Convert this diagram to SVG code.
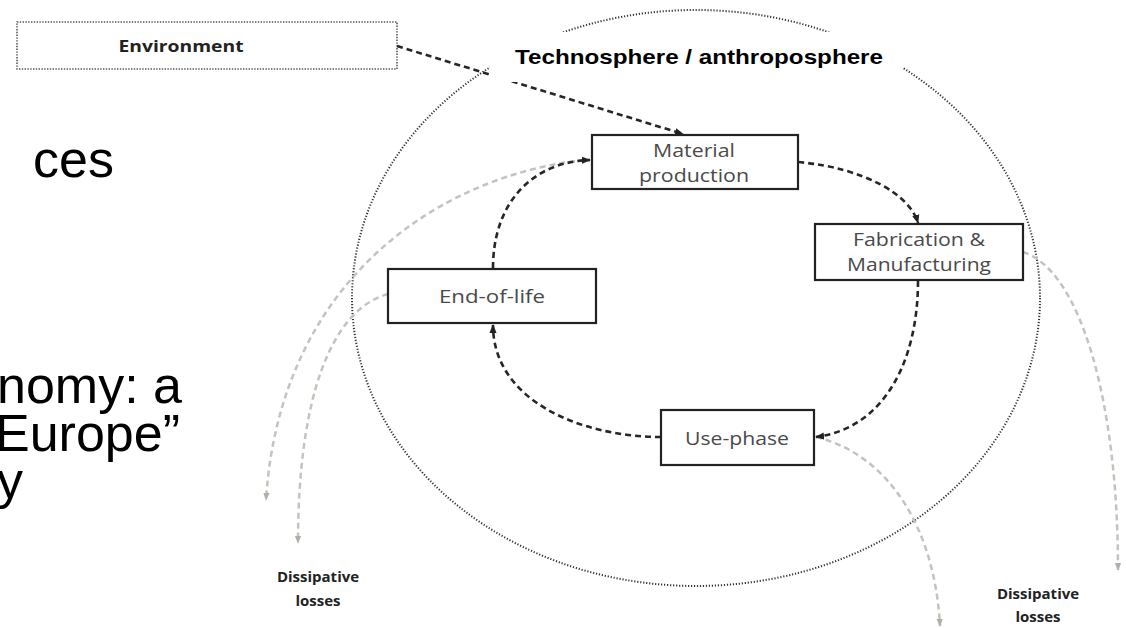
<svg xmlns="http://www.w3.org/2000/svg" width="1126" height="628" viewBox="0 0 1126 628">
  <style>
    .slide { font-family: "Liberation Sans", Arial, sans-serif; font-size: 52px; fill: #000; }
    .node rect { fill: #fff; stroke: #222; stroke-width: 2.2; }
    .node text { font-family: "Open Sans", "DejaVu Sans", sans-serif; font-size: 19px; fill: #4a4a4a; text-anchor: middle; }
    .bold { font-family: "Open Sans", "Liberation Sans", sans-serif; font-weight: bold; fill: #222; text-anchor: middle; }
    .flow { fill: none; stroke: #262626; stroke-width: 2.6; stroke-dasharray: 6 4; }
    .loss { fill: none; stroke: #c4c4bc; stroke-width: 2.5; stroke-dasharray: 6 4; }
    .sphere { fill: none; stroke: #333; stroke-width: 2; stroke-dasharray: 1.2 1.8; }
  </style>
  <defs>
    <marker id="ah" viewBox="0 0 10 10" refX="9" refY="5" markerWidth="9" markerHeight="9" markerUnits="userSpaceOnUse" orient="auto">
      <path d="M0,1 L10,5 L0,9 z" fill="#222"/>
    </marker>
    <marker id="ahg" viewBox="0 0 10 10" refX="9" refY="5" markerWidth="8" markerHeight="8" markerUnits="userSpaceOnUse" orient="auto">
      <path d="M0,1 L10,5 L0,9 z" fill="#b0b0a8"/>
    </marker>
  </defs>
  <rect width="1126" height="628" fill="#fff"/>

  <!-- cut-off slide text -->
  <g id="slide-text">
    <text class="slide" x="33" y="177">ces</text>
    <text class="slide" y="403"><tspan x="-3">nomy: a</tspan><tspan x="-5" dy="48">Europe”</tspan><tspan x="-3" dy="47">y</tspan></text>
  </g>

  <!-- technosphere boundary -->
  <g id="technosphere">
    <ellipse class="sphere" cx="696" cy="298" rx="344" ry="288"/>
  </g>

  <!-- environment -->
  <g id="environment">
    <rect x="17" y="22" width="380" height="47" fill="#fff" stroke="#555" stroke-width="1.6" stroke-dasharray="1.4 1.4"/>
    <text class="bold" x="181" y="52" font-size="16" textLength="125" lengthAdjust="spacingAndGlyphs">Environment</text>
  </g>

  <!-- connectors -->
  <g id="connectors">
    <path class="loss" d="M585,160 C440,175 280,280 266,500" marker-end="url(#ahg)"/>
    <path class="loss" d="M388,294 C330,310 298,400 298,543" marker-end="url(#ahg)"/>
    <path class="loss" d="M1023,252 C1080,270 1118,400 1118,570" marker-end="url(#ahg)"/>
    <path class="loss" d="M816,437 C890,455 935,530 940,626" marker-end="url(#ahg)"/>
    <path class="flow" d="M397,46 L683,134" marker-end="url(#ah)"/>
    <path class="flow" d="M798,162 C865,168 910,195 918,223" marker-end="url(#ah)"/>
    <path class="flow" d="M918,281 C918,360 885,428 816,437" marker-end="url(#ah)"/>
    <path class="flow" d="M661,437 C580,437 493,400 493,325" marker-end="url(#ah)"/>
    <path class="flow" d="M493,268 C493,205 530,162 590,160" marker-end="url(#ah)"/>
  </g>

  <!-- technosphere label -->
  <g id="techno-label">
    <rect x="490" y="32" width="413" height="50" fill="#fff"/>
    <text x="515" y="64" font-family="Liberation Sans, Arial, sans-serif" font-weight="bold" font-size="21" textLength="368" lengthAdjust="spacingAndGlyphs">Technosphere / anthroposphere</text>
  </g>

  <g id="material" class="node">
    <rect x="592" y="135" width="206" height="54"/>
    <text x="694" y="157" textLength="82" lengthAdjust="spacingAndGlyphs">Material</text>
    <text x="694" y="182" textLength="110" lengthAdjust="spacingAndGlyphs">production</text>
  </g>
  <g id="fabrication" class="node">
    <rect x="815" y="224" width="208" height="56"/>
    <text x="919" y="246" textLength="132" lengthAdjust="spacingAndGlyphs">Fabrication &amp;</text>
    <text x="919" y="271" textLength="144" lengthAdjust="spacingAndGlyphs">Manufacturing</text>
  </g>
  <g id="end-of-life" class="node">
    <rect x="388" y="269" width="208" height="54"/>
    <text x="492" y="303" textLength="106" lengthAdjust="spacingAndGlyphs">End-of-life</text>
  </g>
  <g id="use-phase" class="node">
    <rect x="661" y="410" width="153" height="55"/>
    <text x="737" y="445" textLength="104" lengthAdjust="spacingAndGlyphs">Use-phase</text>
  </g>

  <g id="dissipative-left">
    <text class="bold" x="318" y="582" font-size="15">Dissipative</text>
    <text class="bold" x="318" y="606" font-size="15">losses</text>
  </g>
  <g id="dissipative-right">
    <text class="bold" x="1038" y="599" font-size="15">Dissipative</text>
    <text class="bold" x="1038" y="622" font-size="15">losses</text>
  </g>
</svg>
